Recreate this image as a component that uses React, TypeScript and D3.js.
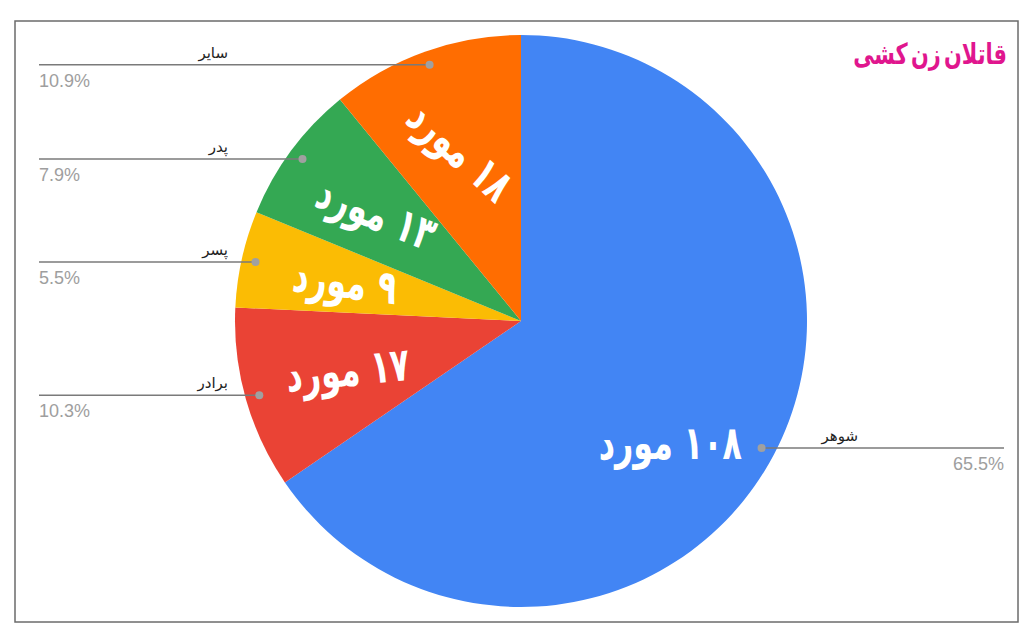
import React from "react";
import * as d3 from "d3";

const categories = ["شوهر", "برادر", "پسر", "پدر", "سایر"];
const counts = [108, 17, 9, 13, 18];
const colors = ["#4285F4", "#EA4335", "#FBBC04", "#34A853", "#FF6D01"];
const title = "قاتلان زن کشی";
const unitWord = "مورد";

const W = 1029;
const H = 631;
const cx = 521;
const cy = 321;
const R = 286;

const faDigits = "۰۱۲۳۴۵۶۷۸۹";
const toFa = (n: number) => String(n).replace(/\d/g, (d) => faDigits[+d]);

export default function App() {
  const total = d3.sum(counts);
  const pie = d3.pie<number>().sort(null).value((d) => d)(counts);
  const arc = d3.arc<d3.PieArcDatum<number>>().innerRadius(0).outerRadius(R);
  const dotArc = d3.arc<d3.PieArcDatum<number>>().innerRadius(R * 0.951).outerRadius(R * 0.951);
  const labelArc = d3.arc<d3.PieArcDatum<number>>().innerRadius(R * 0.63).outerRadius(R * 0.63);
  const leftX = 39;
  const rightX = 1004;

  return (
    <svg
      width={W}
      height={H}
      style={{ position: "absolute", left: 0, top: 0, background: "#fff" }}
    >
      <rect x={15} y={21} width={1003} height={601} fill="#fff" stroke="#6b6b6b" strokeWidth={1.5} />
      <g transform={`translate(${cx},${cy})`}>
        {pie.map((p, i) => (
          <path key={i} d={arc(p) || ""} fill={colors[i]} />
        ))}
        {pie.map((p, i) => {
          const [lx, ly] = labelArc.centroid(p);
          const mid = ((p.startAngle + p.endAngle) / 2) * (180 / Math.PI);
          const rot = mid > 180 ? (mid - 270) * (mid > 270 ? 0.6 : 0.35) : 0;
          const dyShift = mid > 180 ? 0 : 38;
          const dxShift = mid > 180 ? 0 : -10;
          return (
            <text
              key={"l" + i}
              transform={`translate(${lx + dxShift},${ly + dyShift}) rotate(${rot}) scale(0.82,1.08)`}
              textAnchor="middle"
              dominantBaseline="central"
              direction="rtl"
              style={{ direction: "rtl", unicodeBidi: "embed" }}
              fill="#fff"
              fontFamily="DejaVu Sans Condensed, DejaVu Sans"
              fontWeight="bold"
              fontSize={43}
            >
              {"\u200F" + toFa(counts[i]) + " " + unitWord}
            </text>
          );
        })}
      </g>
      {pie.map((p, i) => {
        const [dx, dy] = dotArc.centroid(p);
        const x = cx + dx;
        const y = cy + dy;
        const left = x < cx;
        const pct = ((counts[i] / total) * 100).toFixed(1) + "%";
        return (
          <g key={"c" + i}>
            <line x1={left ? leftX : x} x2={left ? x : rightX} y1={y} y2={y} stroke="#7a7a7a" strokeWidth={1.5} />
            <circle cx={x} cy={y} r={4} fill="#a0a0a0" />
            <text
              x={left ? 228 : 858}
              y={y - 7}
              textAnchor="end"
              fontFamily="DejaVu Sans"
              fontSize={15}
              fill="#222"
            >
              {categories[i]}
            </text>
            <text
              x={left ? leftX : rightX}
              y={y + 22}
              textAnchor={left ? "start" : "end"}
              fontFamily="Liberation Sans, Arial"
              fontSize={18}
              fill="#9e9e9e"
            >
              {pct}
            </text>
          </g>
        );
      })}
      <text
        transform="translate(1007,64) scale(0.8,1)"
        textAnchor="end"
        fontFamily="DejaVu Sans Condensed, DejaVu Sans"
        fontWeight="bold"
        fontSize={29}
        wordSpacing={-5}
        fill="#E0168E"
      >
        {title}
      </text>
    </svg>
  );
}
